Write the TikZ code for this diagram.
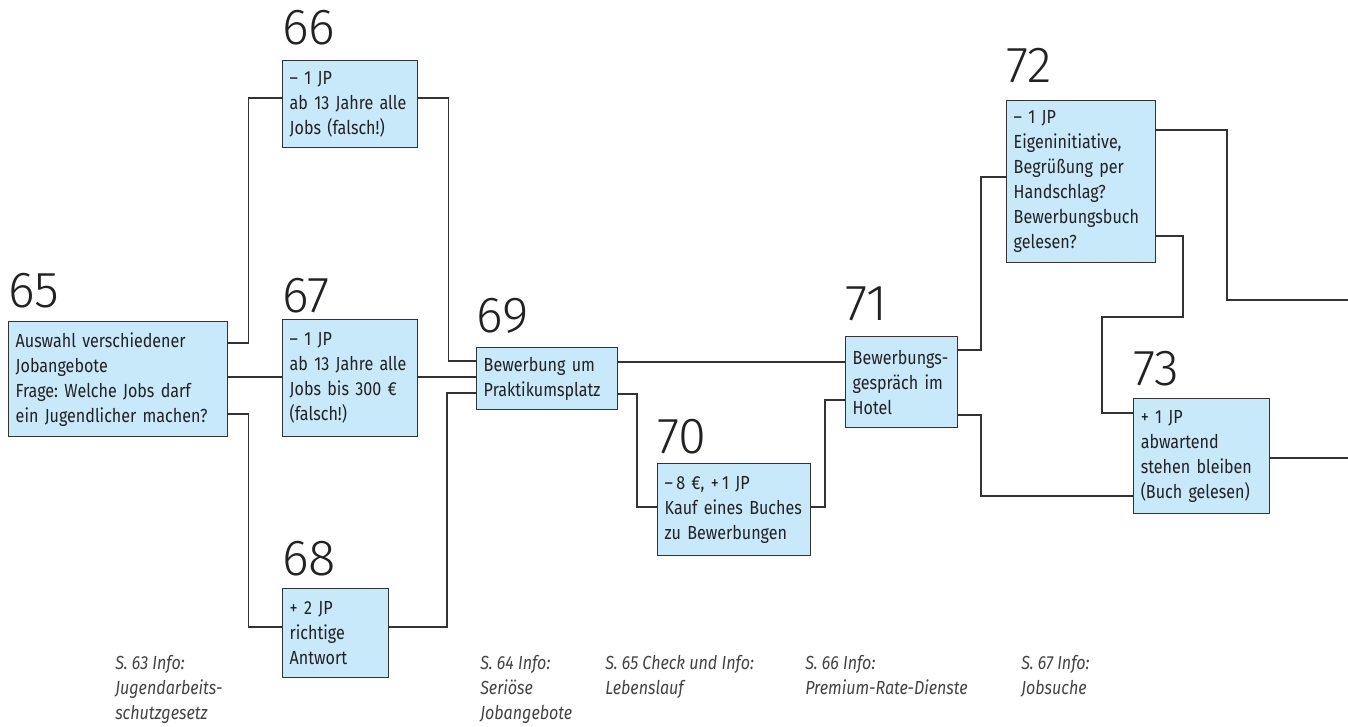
\documentclass[tikz,border=0pt]{standalone}
\usepackage{fontspec}
\setmainfont{Fira Sans}
\newfontfamily\boxfont{Fira Sans}[FakeStretch=0.85]
\newfontfamily\numfont{Fira Sans Light}
\frenchspacing
\newlength\pxu
\setlength\pxu{0.75pt}
\definecolor{boxblue}{RGB}{199,233,250}
\definecolor{linegray}{RGB}{51,51,51}
\definecolor{textgray}{RGB}{34,34,34}

\tikzset{
  box/.style={draw=linegray, line width=1.1pt, fill=boxblue, anchor=north west,
    inner xsep=7\pxu, inner ysep=0pt, align=left, text=textgray,
    font=\boxfont\frenchspacing\fontsize{14.2pt}{18.75pt}\selectfont},
  num/.style={anchor=base west, inner sep=0pt, text=textgray,
    font=\numfont\fontsize{38pt}{38pt}\selectfont},
  info/.style={anchor=north west, inner sep=0pt, align=left, text=textgray!85,
    font=\boxfont\itshape\fontsize{14.2pt}{18.75pt}\selectfont},
  link/.style={draw=linegray, line width=0.9pt},
}

\begin{document}
\begin{tikzpicture}[x=0.75pt,y=-0.75pt]

	\useasboundingbox (0,0) rectangle (1348,727);

	% boxes
	\node[box, text width=205\pxu, minimum height=115\pxu] (b65) at (8,321)
		{Auswahl verschiedener\\Jobangebote\\Frage: Welche Jobs darf\\ein Jugendlicher machen?};
	\node[box, text width=121\pxu, minimum height=87\pxu] (b66) at (282,60)
		{– 1 JP\\ab 13 Jahre alle\\Jobs (falsch!)};
	\node[box, text width=121\pxu, minimum height=117\pxu] (b67) at (282,319)
		{– 1 JP\\ab 13 Jahre alle\\Jobs bis 300 €\\(falsch!)};
	\node[box, text width=92\pxu, minimum height=89\pxu] (b68) at (282,588)
		{+ 2 JP\\richtige\\Antwort};
	\node[box, text width=127\pxu, minimum height=62\pxu] (b69) at (476,347)
		{Bewerbung um\\Praktikumsplatz};
	\node[box, text width=139\pxu, minimum height=92\pxu] (b70) at (657,463)
		{–\,8 €, +\,1 JP\\Kauf eines Buches\\zu Bewerbungen};
	\node[box, text width=98\pxu, minimum height=91\pxu] (b71) at (845,336)
		{Bewerbungs-\\gespräch im\\Hotel};
	\node[box, text width=135\pxu, minimum height=162\pxu] (b72) at (1006,100)
		{– 1 JP\\Eigeninitiative,\\Begrüßung per\\Handschlag?\\Bewerbungsbuch\\gelesen?};
	\node[box, text width=122\pxu, minimum height=115\pxu] (b73) at (1133,398)
		{+ 1 JP\\abwartend\\stehen bleiben\\(Buch gelesen)};

	% numbers
	\node[num] (n65) at (8,307) {65};
	\node[num] (n66) at (282,45) {66};
	\node[num] (n67) at (282,312) {67};
	\node[num] (n68) at (282,575) {68};
	\node[num] (n69) at (476,332) {69};
	\node[num] (n70) at (657,453) {70};
	\node[num] (n71) at (845,320) {71};
	\node[num] (n72) at (1006,83) {72};
	\node[num] (n73) at (1133,385) {73};

	% open ends at the right border
	\coordinate (e72) at (1348,300);
	\coordinate (e73) at (1348,458);

	% connectors
	\draw[link] (b65.east|-0,343) -- ++(20,0) |- (b66.west|-0,98);
	\draw[link] (b65.east|-0,377) -- (b67.west|-0,377);
	\draw[link] (b65.east|-0,414) -- ++(20,0) |- (b68.west|-0,627);

	\draw[link] (b66.east|-0,98) -- ++(30,0) |- (b69.west|-0,361);
	\draw[link] (b67.east|-0,377) -- (b69.west|-0,377);
	\draw[link] (b68.east|-0,627) -| (447,393) -- (b69.west|-0,393);

	\draw[link] (b69.east|-0,362) -- (b71.west|-0,362);
	\draw[link] (b69.east|-0,394) -| (637,450) |- (b70.west|-0,507);
	\draw[link] (b70.east|-0,507) -| (825,450) |- (b71.west|-0,400);

	\draw[link] (b71.east|-0,350) -| (981,260) |- (b72.west|-0,177);
	\draw[link] (b71.east|-0,415) -| (981,450) |- (b73.west|-0,496);

	\draw[link] (b72.east|-0,130) -| (1227,200) |- (e72);
	\draw[link] (b72.east|-0,236) -| (1183,317) -| (1102,413) -- (b73.west|-0,413);
	\draw[link] (b73.east|-0,458) -- (e73);

	% page hints
	\node[info] (i63) at (115,655) {S. 63 Info:\\Jugendarbeits-\\schutzgesetz};
	\node[info] (i64) at (480,655) {S. 64 Info:\\Seriöse\\Jobangebote};
	\node[info] (i65) at (605,655) {S. 65 Check und Info:\\Lebenslauf};
	\node[info] (i66) at (805,655) {S. 66 Info:\\Premium-Rate-Dienste};
	\node[info] (i67) at (1021,655) {S. 67 Info:\\Jobsuche};

\end{tikzpicture}
\end{document}
